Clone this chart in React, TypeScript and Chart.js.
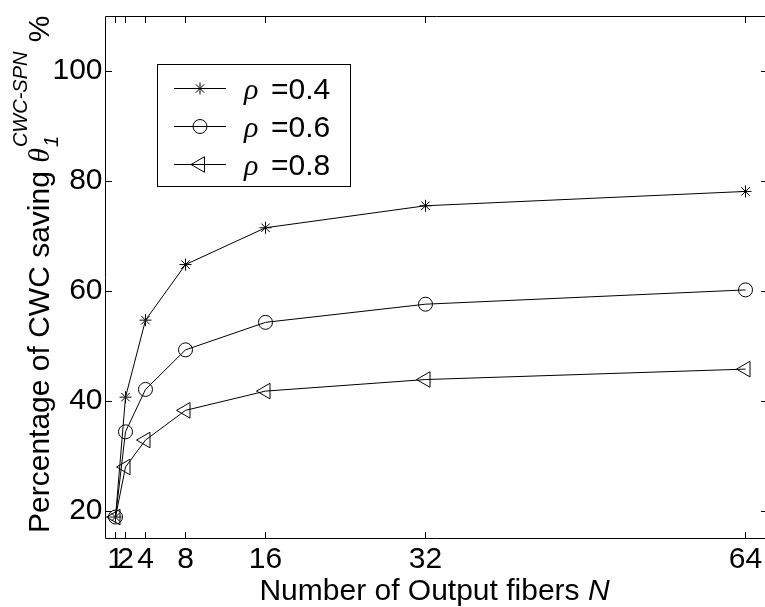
import React, { useEffect, useRef } from 'react';
import { Chart, registerables } from 'chart.js';

Chart.register(...registerables);

// ---- data ----
const N_VALUES = [1, 2, 4, 8, 16, 32, 64];
const RHO_04 = [18.9, 40.7, 54.7, 64.8, 71.5, 75.5, 78.1];
const RHO_06 = [18.9, 34.4, 42.1, 49.3, 54.3, 57.6, 60.2];
const RHO_08 = [18.9, 28.0, 32.9, 38.3, 41.8, 43.9, 45.8];
const SERIES_LABELS = ['0.4', '0.6', '0.8'];
const X_TICKS = [1, 2, 4, 8, 16, 32, 64];
const Y_TICKS = [20, 40, 60, 80, 100];

const SANS = '"Liberation Sans", Arial, Helvetica, sans-serif';
const SERIF = '"Liberation Serif", "Times New Roman", serif';

function drawMarker(ctx: CanvasRenderingContext2D, style: string, x: number, y: number, r: number) {
  ctx.beginPath();
  if (style === 'star') {
    for (let k = 0; k < 4; k++) {
      const a = (k * Math.PI) / 4;
      ctx.moveTo(x - Math.cos(a) * r, y - Math.sin(a) * r);
      ctx.lineTo(x + Math.cos(a) * r, y + Math.sin(a) * r);
    }
    ctx.stroke();
  } else if (style === 'circle') {
    ctx.arc(x, y, r, 0, Math.PI * 2);
    ctx.stroke();
  } else if (style === 'triangle') {
    ctx.moveTo(x - r, y);
    ctx.lineTo(x + r / 2, y - 0.866 * r);
    ctx.lineTo(x + r / 2, y + 0.866 * r);
    ctx.closePath();
    ctx.stroke();
  }
}

export default function App() {
  const ref = useRef<HTMLCanvasElement>(null);

  useEffect(() => {
    const canvas = ref.current;
    if (!canvas) return;
    const TICK = 6.5;

    const framePlugin = {
      id: 'matlabFrame',
      afterDraw(chart: any) {
        const { ctx, chartArea: a, scales } = chart;
        const xs = scales.x;
        const ys = scales.y;
        const c = (v: number) => Math.floor(v) + 0.5;
        ctx.save();
        ctx.strokeStyle = '#000';
        ctx.lineWidth = 1;
        const L = c(a.left), R = c(a.right), T = c(a.top), B = c(a.bottom);
        ctx.beginPath();
        ctx.rect(L, T, R - L, B - T);
        for (const v of X_TICKS) {
          const px = c(xs.getPixelForValue(v));
          ctx.moveTo(px, B); ctx.lineTo(px, B - TICK);
          ctx.moveTo(px, T); ctx.lineTo(px, T + TICK);
        }
        for (const v of Y_TICKS) {
          const py = c(ys.getPixelForValue(v));
          ctx.moveTo(L, py); ctx.lineTo(L + TICK, py);
          ctx.moveTo(R, py); ctx.lineTo(R - TICK, py);
        }
        ctx.stroke();

        // legend
        const lx = 157.5, ly = 64.5, lw = 193, lh = 122;
        ctx.fillStyle = '#fff';
        ctx.fillRect(lx, ly, lw, lh);
        ctx.strokeRect(lx, ly, lw, lh);
        chart.data.datasets.forEach((ds: any, i: number) => {
          const ry = Math.round(ly + 23 + i * 38) + 0.5;
          ctx.beginPath();
          ctx.moveTo(174, ry); ctx.lineTo(226, ry);
          ctx.stroke();
          drawMarker(ctx, ds.pointStyle, 200, ry, ds.pointRadius);
          ctx.fillStyle = '#000';
          ctx.textBaseline = 'alphabetic';
          ctx.textAlign = 'left';
          ctx.font = `italic 30px ${SERIF}`;
          ctx.fillText('\u03C1', 244, ry + 10.5);
          ctx.font = `30px ${SANS}`;
          ctx.fillText('=' + SERIES_LABELS[i], 271, ry + 10.5);
        });

        // x title
        ctx.fillStyle = '#000';
        ctx.textBaseline = 'alphabetic';
        ctx.textAlign = 'left';
        const xt1 = 'Number of Output fibers ';
        ctx.font = `30px ${SANS}`;
        const wx1 = ctx.measureText(xt1).width;
        ctx.font = `italic 30px ${SANS}`;
        const wx2 = ctx.measureText('N').width;
        const xcx = (a.left + a.right) / 2 - 2;
        const xx = xcx - (wx1 + wx2) / 2;
        ctx.font = `30px ${SANS}`;
        ctx.fillText(xt1, xx, 600);
        ctx.font = `italic 30px ${SANS}`;
        ctx.fillText('N', xx + wx1, 600);

        // y title
        const cy = (a.top + a.bottom) / 2 - 3;
        ctx.translate(49, cy);
        ctx.rotate(-Math.PI / 2);
        const t1 = 'Percentage of CWC saving ';
        const fMain = `30px ${SANS}`;
        const fTh = `italic 30px ${SERIF}`;
        const fSm = `italic 20px ${SANS}`;
        ctx.font = fMain;
        const w1 = ctx.measureText(t1).width;
        const w3 = ctx.measureText(' %').width;
        ctx.font = fTh;
        const wT = ctx.measureText('\u03B8').width;
        ctx.font = fSm;
        const wSub = ctx.measureText('1').width;
        const wSup = ctx.measureText('CWC-SPN').width;
        const wS = Math.max(wSub, wSup) + 2;
        const total = w1 + wT + wS + w3;
        let p = -total / 2;
        ctx.font = fMain;
        ctx.fillText(t1, p, 0);
        p += w1;
        ctx.font = fTh;
        ctx.fillText('\u03B8', p, 0);
        p += wT;
        ctx.font = fSm;
        ctx.fillText('1', p + 1, 9);
        ctx.fillText('CWC-SPN', p + 1, -22);
        p += wS;
        ctx.font = fMain;
        ctx.fillText(' %', p, 0);
        ctx.restore();
      },
    };

    const mk = (data: number[], style: string, r: number, rot: number) => ({
      data: N_VALUES.map((n, i) => ({ x: n, y: data[i] })),
      borderColor: '#000',
      backgroundColor: 'rgba(0,0,0,0)',
      borderWidth: 1,
      pointStyle: style,
      pointRadius: r,
      pointRotation: rot,
      pointBorderColor: '#000',
      pointBackgroundColor: 'rgba(0,0,0,0)',
      pointBorderWidth: 1,
      tension: 0,
      fill: false,
    });

    const chart = new Chart(canvas, {
      type: 'line',
      data: {
        datasets: [
          { label: 'rho=0.4', ...mk(RHO_04, 'star', 6, 0) },
          { label: 'rho=0.6', ...mk(RHO_06, 'circle', 7, 0) },
          { label: 'rho=0.8', ...mk(RHO_08, 'triangle', 9, -90) },
        ] as any,
      },
      options: {
        animation: false,
        responsive: false,
        devicePixelRatio: 1,
        layout: { padding: { top: 16, right: 800 - 767.5, left: 0, bottom: 0 } },
        plugins: { legend: { display: false }, tooltip: { enabled: false } },
        scales: {
          x: {
            type: 'linear',
            min: 0,
            max: 66.2,
            afterBuildTicks: (s: any) => { s.ticks = X_TICKS.map((v) => ({ value: v })); },
            afterFit: (s: any) => { s.height = 607 - 538.5; s.paddingLeft = 0; s.paddingRight = 0; },
            grid: { display: false, drawTicks: false },
            border: { display: false },
            ticks: {
              autoSkip: false,
              maxRotation: 0,
              padding: 3,
              color: '#000',
              font: { family: SANS, size: 30 },
              callback: (v: any) => String(v),
            },
          },
          y: {
            type: 'linear',
            min: 15,
            max: 110,
            afterBuildTicks: (s: any) => { s.ticks = Y_TICKS.map((v) => ({ value: v })); },
            afterFit: (s: any) => { s.width = 105.5; s.paddingTop = 0; s.paddingBottom = 0; },
            grid: { display: false, drawTicks: false },
            border: { display: false },
            ticks: {
              autoSkip: false,
              padding: 3,
              color: '#000',
              font: { family: SANS, size: 30 },
              callback: (v: any) => String(v),
            },
          },
        },
      } as any,
      plugins: [framePlugin],
    });

    return () => chart.destroy();
  }, []);

  return (
    <div style={{ position: 'fixed', left: 0, top: 0, width: 765, height: 607, overflow: 'hidden', background: '#fff' }}>
      <canvas ref={ref} width={800} height={607} style={{ display: 'block' }} />
    </div>
  );
}
